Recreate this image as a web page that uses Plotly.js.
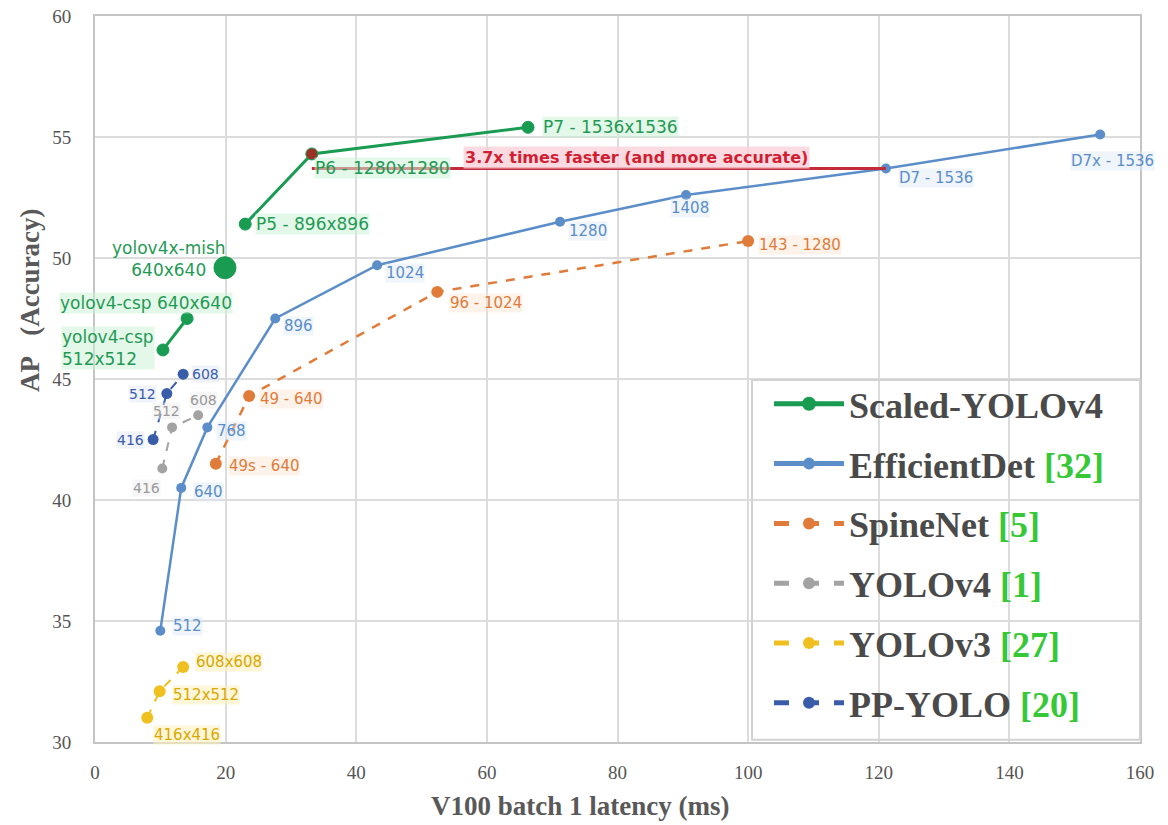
<!DOCTYPE html>
<html>
<head>
<meta charset="utf-8">
<script src="https://cdn.plot.ly/plotly-3.0.1.min.js"></script>
<style>html,body{margin:0;padding:0;background:#fff;}#chart{width:1168px;height:825px;}</style>
</head>
<body>
<div id="chart"></div>
<script>
// ---------- DATA ----------
const scaledLatency = [10.4, 14.1, 19.9, 23.0, 33.2, 66.3];
const scaledAP      = [46.2, 47.5, 49.6, 51.4, 54.3, 55.4];
const scaledLabels  = ['yolov4-csp<br>512x512', 'yolov4-csp 640x640', 'yolov4x-mish<br>640x640', 'P5 - 896x896', 'P6 - 1280x1280', 'P7 - 1536x1536'];

const effLatency = [10.0, 13.2, 17.2, 27.6, 43.2, 71.2, 90.5, 121.1, 153.9];
const effAP      = [34.6, 40.5, 43.0, 47.5, 49.7, 51.5, 52.6, 53.7, 55.1];
const effLabels  = ['512', '640', '768', '896', '1024', '1280', '1408', 'D7 - 1536', 'D7x - 1536'];

const spineLatency = [18.5, 23.6, 52.4, 100.0];
const spineAP      = [41.5, 44.3, 48.6, 50.7];
const spineLabels  = ['49s - 640', '49 - 640', '96 - 1024', '143 - 1280'];

const v4Latency = [10.3, 11.8, 15.8];
const v4AP      = [41.3, 43.0, 43.5];
const v4Labels  = ['416', '512', '608'];

const v3Latency = [8.0, 9.9, 13.5];
const v3AP      = [31.0, 32.1, 33.1];
const v3Labels  = ['416x416', '512x512', '608x608'];

const ppLatency = [8.9, 11.0, 13.5];
const ppAP      = [42.5, 44.4, 45.2];
const ppLabels  = ['416', '512', '608'];

const seriesNames = ['Scaled-YOLOv4', 'EfficientDet', 'SpineNet', 'YOLOv4', 'YOLOv3', 'PP-YOLO'];
const seriesRefs  = ['', '[32]', '[5]', '[1]', '[27]', '[20]'];
const compareText = '3.7x times faster (and more accurate)';
const xTitle = 'V100 batch 1 latency (ms)';
const yTitle = 'AP\u00a0\u00a0\u00a0(Accuracy)';

// ---------- STYLE ----------
const C = {
  green: '#199c52', blue: '#5b8ec9', orange: '#e07b39', gray: '#a3a3a3',
  gold: '#f0c020', navy: '#3a5daa', red: '#c42a3a', ref: '#37c837'
};
const serif = '"Liberation Serif", "Times New Roman", serif';
const sans = '"DejaVu Sans", Verdana, sans-serif';

// break points in Scaled-YOLOv4 line (segments: csp512-csp640 | mish | P5-P6-P7)
const scaledBreakAfter = [1, 2];
function withBreaks(arr, breaks, fill) {
  const out = [];
  arr.forEach((v, i) => { out.push(v); if (breaks.includes(i)) out.push(fill); });
  return out;
}
const scaledMarkerColor = scaledAP.map((v, i) => i === 4 ? '#9a3326' : C.green);
const scaledMarkerSize = scaledAP.map((v, i) => i === 2 ? 22 : 12);

function legendName(i) {
  return seriesRefs[i] ? seriesNames[i] + ' <span style="color:' + C.ref + '">' + seriesRefs[i] + '</span>' : seriesNames[i];
}

const traces = [
  { x: withBreaks(scaledLatency, scaledBreakAfter, null), y: withBreaks(scaledAP, scaledBreakAfter, null),
    name: legendName(0), mode: 'lines+markers', connectgaps: false,
    line: { color: C.green, width: 3 },
    marker: { color: withBreaks(scaledMarkerColor, scaledBreakAfter, C.green),
              size: withBreaks(scaledMarkerSize, scaledBreakAfter, 12), opacity: 1 } },
  { x: effLatency, y: effAP, name: legendName(1), mode: 'lines+markers',
    line: { color: C.blue, width: 2.5 }, marker: { color: C.blue, size: 10, opacity: 1 } },
  { x: spineLatency, y: spineAP, name: legendName(2), mode: 'lines+markers',
    line: { color: C.orange, width: 2.5, dash: 'dash' }, marker: { color: C.orange, size: 12, opacity: 1 } },
  { x: v4Latency, y: v4AP, name: legendName(3), mode: 'lines+markers',
    line: { color: C.gray, width: 2, dash: 'dash' }, marker: { color: C.gray, size: 10, opacity: 1 } },
  { x: v3Latency, y: v3AP, name: legendName(4), mode: 'lines+markers',
    line: { color: C.gold, width: 2, dash: 'dash' }, marker: { color: C.gold, size: 12, opacity: 1 } },
  { x: ppLatency, y: ppAP, name: legendName(5), mode: 'lines+markers',
    line: { color: C.navy, width: 2, dash: 'dash' }, marker: { color: C.navy, size: 11, opacity: 1 } }
];
traces.forEach((t, i) => { t.legendgroup = 'g' + i; t.hoverinfo = 'x+y'; });

// label placement styles: [xanchor, yanchor, xshift, yshift, align, showBackground]
const scaledPos = [['right','middle',-8,2,'left',true], ['right','middle',46,16,'center',true], ['center','middle',-56,9,'center',false], ['left','middle',10,0,'center',true], ['left','middle',2,-14,'center',true], ['left','middle',14,0,'center',true]];
const effPos = [['left','middle',12,5], ['left','middle',12,-4], ['left','middle',9,-4], ['left','middle',8,-7], ['left','middle',8,-8], ['left','middle',8,-9], ['center','middle',4,-13], ['left','middle',12,-10], ['center','middle',12,-26]];
const spinePos = [['left','middle',12,-2], ['left','middle',10,-3], ['left','middle',12,-11], ['left','middle',10,-4]];
const v4Pos = [['right','middle',-1,-19], ['center','middle',-6,16], ['center','middle',5,15]];
const v3Pos = [['left','middle',6,-17], ['left','middle',12,-4], ['left','middle',12,5]];
const ppPos = [['right','middle',-8,0], ['right','middle',-10,0], ['left','middle',8,0]];

function makeLabels(xs, ys, texts, pos, color, bg, size) {
  return xs.map((x, i) => ({
    x: x, y: ys[i], xref: 'x', yref: 'y', text: texts[i], showarrow: false,
    xanchor: pos[i][0], yanchor: pos[i][1], xshift: pos[i][2], yshift: pos[i][3],
    align: pos[i][4] || 'center', bgcolor: pos[i][5] === false ? 'rgba(0,0,0,0)' : bg, borderpad: 0,
    font: { family: sans, size: size, color: color }
  }));
}

let annotations = [].concat(
  makeLabels(scaledLatency, scaledAP, scaledLabels, scaledPos, '#1f9a55', 'rgba(205,242,215,0.55)', 17),
  makeLabels(effLatency, effAP, effLabels, effPos, C.blue, 'rgba(220,232,246,0.45)', 15),
  makeLabels(spineLatency, spineAP, spineLabels, spinePos, C.orange, 'rgba(250,228,210,0.45)', 15),
  makeLabels(v4Latency, v4AP, v4Labels, v4Pos, '#9a9a9a', 'rgba(235,235,235,0.45)', 14),
  makeLabels(v3Latency, v3AP, v3Labels, v3Pos, '#d9a800', 'rgba(252,240,190,0.6)', 15),
  makeLabels(ppLatency, ppAP, ppLabels, ppPos, C.navy, 'rgba(222,228,245,0.45)', 14)
);

// comparison line: from P6 latency to D7 latency at D7 accuracy
const p6x = scaledLatency[4], d7x = effLatency[7], d7y = effAP[7];
annotations.push({
  x: (p6x + d7x) / 2, y: d7y, xref: 'x', yref: 'y', text: '<b>' + compareText + '</b>', showarrow: false,
  xanchor: 'center', yanchor: 'bottom', xshift: 38, yshift: -1,
  bgcolor: 'rgba(250,210,218,0.8)', borderpad: 1,
  font: { family: sans, size: 16, color: '#d01f33' }
});

// axis titles
annotations.push({
  xref: 'paper', yref: 'paper', x: 0.464, y: -0.088, xanchor: 'center', yanchor: 'middle',
  text: '<b>' + xTitle + '</b>', showarrow: false,
  font: { family: serif, size: 27, color: '#595959' }
});
annotations.push({
  xref: 'paper', yref: 'paper', x: -0.062, y: 0.609, xanchor: 'center', yanchor: 'middle',
  text: '<b>' + yTitle + '</b>', showarrow: false, textangle: -90,
  font: { family: serif, size: 27, color: '#595959' }
});

const layout = {
  width: 1168, height: 825,
  margin: { l: 95, r: 28, t: 16, b: 83 },
  paper_bgcolor: '#ffffff', plot_bgcolor: '#ffffff',
  showlegend: true,
  xaxis: {
    range: [0, 160], dtick: 20, tick0: 0, showgrid: true, gridcolor: '#dcdcdc', gridwidth: 2,
    zeroline: false, showline: true, linecolor: '#c4c4c4', linewidth: 2, mirror: true, ticks: '',
    ticklabelstandoff: 12,
    tickfont: { family: serif, size: 19, color: '#555555' }
  },
  yaxis: {
    range: [30, 60], dtick: 5, tick0: 30, showgrid: true, gridcolor: '#dcdcdc', gridwidth: 2,
    zeroline: false, showline: true, linecolor: '#c4c4c4', linewidth: 2, mirror: true, ticks: '',
    ticklabelstandoff: 18,
    tickfont: { family: serif, size: 19, color: '#555555' }
  },
  legend: {
    x: 0.645, y: 0.507, xanchor: 'left', yanchor: 'top',
    bgcolor: 'rgba(255,255,255,0)', borderwidth: 0,
    font: { family: serif, size: 36, color: '#4a4a4a', weight: 'bold' },
    itemwidth: 70, tracegroupgap: 10, traceorder: 'grouped', itemsizing: 'constant'
  },
  shapes: [
    { type: 'line', xref: 'x', yref: 'y', x0: p6x, x1: d7x, y0: d7y, y1: d7y,
      line: { color: C.red, width: 3 }, layer: 'above' },
    { type: 'rect', xref: 'paper', yref: 'paper', x0: 0.6287, x1: 1.0, y0: 0.003, y1: 0.4986,
      line: { color: '#d2d2d2', width: 2 }, fillcolor: 'rgba(0,0,0,0)', layer: 'above' }
  ],
  annotations: annotations
};

Plotly.newPlot('chart', traces, layout, { displayModeBar: false, staticPlot: true });
</script>
</body>
</html>
